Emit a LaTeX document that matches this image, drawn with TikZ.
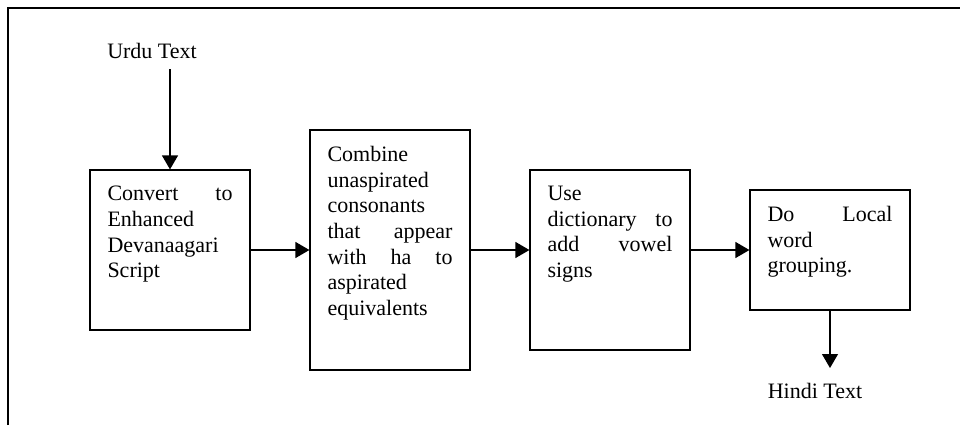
\documentclass[tikz,border=0pt]{standalone}
\usepackage{fontspec}
\setmainfont{Liberation Serif}
\usetikzlibrary{arrows.meta}
\begin{document}
\begin{tikzpicture}[x=0.75pt,y=-0.75pt,
  every node/.style={font=\fontsize{16.5pt}{19.3pt}\selectfont},
  stepbox/.style={draw,line width=0.9pt,inner xsep=13.125pt,inner ysep=12pt},
  flow/.style={line width=0.9pt,-{Triangle[width=12pt,length=10.5pt]}},
  frame/.style={line width=1.1pt}]
\useasboundingbox (0,0) rectangle (960,425);
% open outer frame (left and top edges only)
\draw[frame] (8,425) -- (8,8) -- (960,8);
% processing steps
\node[stepbox] (b1) at (170,250) {\parbox[c][96pt][t]{93.75pt}{Convert\hfill to\\Enhanced\\Devanaagari\\Script}};
\node[stepbox] (b2) at (390,250) {\parbox[c][156pt][t]{93.75pt}{Combine\\unaspirated\\consonants\\that\hfill appear\\with\hfill ha\hfill to\\aspirated\\equivalents}};
\node[stepbox] (b3) at (610,260) {\parbox[c][111pt][t]{93.75pt}{Use\\dictionary\hfill to\\add\hfill vowel\\signs}};
\node[stepbox] (b4) at (830,250) {\parbox[c][66pt][t]{93.75pt}{Do\hfill Local\\word\\grouping.}};
% input and output labels
\node[anchor=base,inner sep=0pt] (in) at (152,58) {Urdu Text};
\node[anchor=base,inner sep=0pt] (out) at (815,398) {Hindi Text};
\coordinate (u) at (170,69);
\coordinate (h) at (830,368);
% connectors
\draw[flow] (u) -- (b1.north);
\draw[flow] (b1.east) -- (b2.west);
\draw[flow] (b2.east) -- (b2.east -| b3.west);
\draw[flow] (b3.east |- b4.west) -- (b4.west);
\draw[flow] (b4.south) -- (h);
\end{tikzpicture}
\end{document}
